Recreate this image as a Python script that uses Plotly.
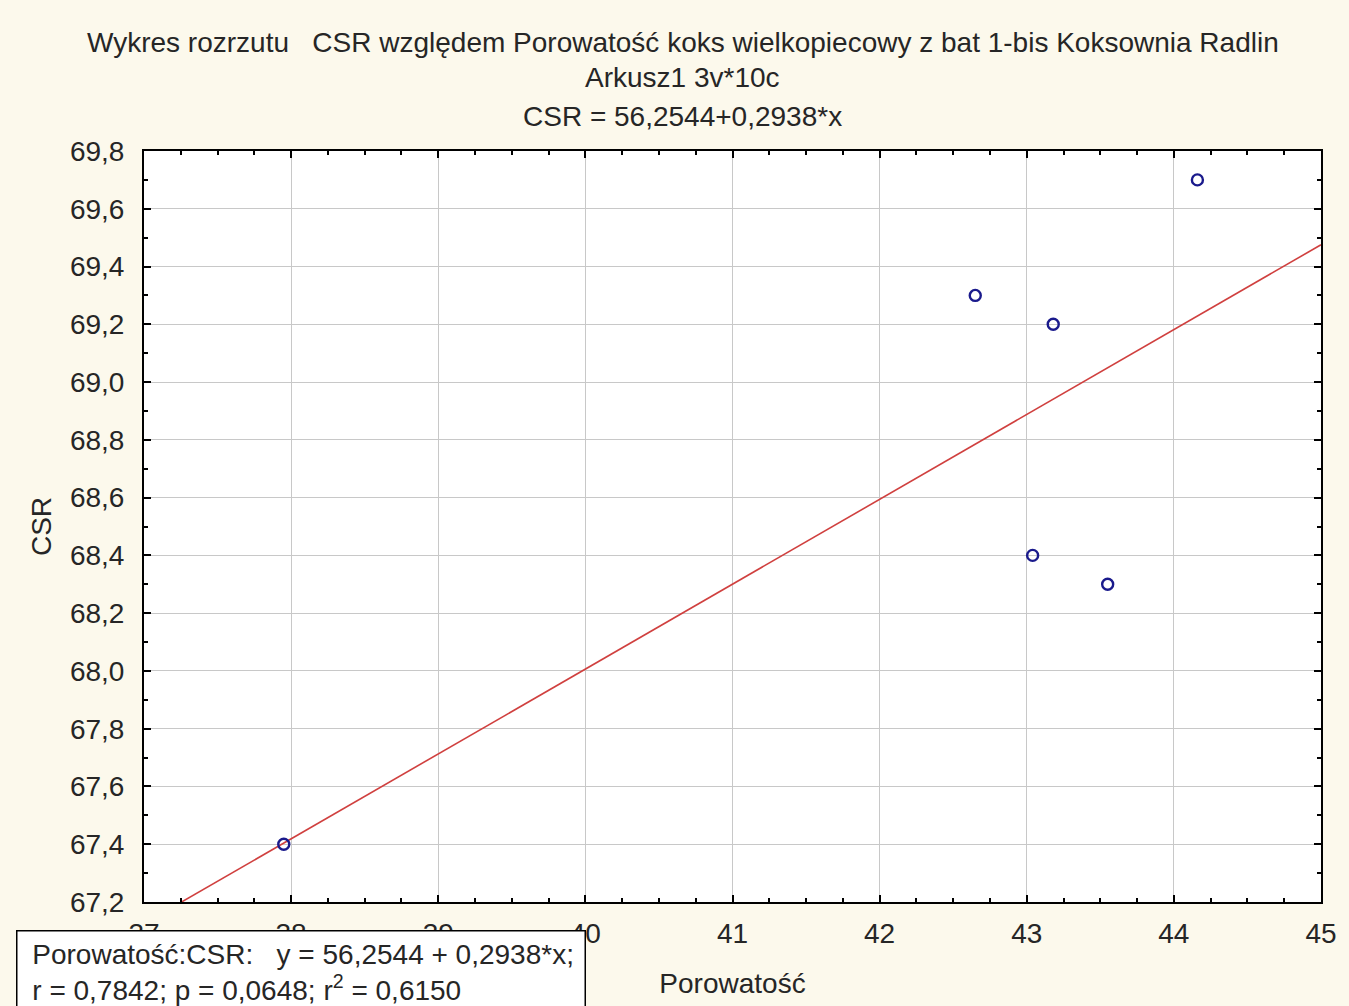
import plotly.graph_objects as go

# Porowatość (x) and CSR (y) measurements
porowatosc = [37.95, 42.65, 43.18, 43.04, 43.55, 44.16]
csr = [67.4, 69.3, 69.2, 68.4, 68.3, 69.7]

# Fitted regression: CSR = a + b*x
intercept = 56.2544
slope = 0.2938
fit_x = [37.0, 45.0]
fit_y = [intercept + slope * v for v in fit_x]

title_lines = [
    "Wykres rozrzutu\u00a0\u00a0\u00a0CSR względem Porowatość koks wielkopiecowy z bat 1-bis Koksownia Radlin",
    "Arkusz1 3v*10c",
    "CSR = 56,2544+0,2938*x",
]
stats_text = ("\u00a0Porowatość:CSR:\u00a0\u00a0\u00a0y = 56,2544 + 0,2938*x;<br>"
              "\u00a0r = 0,7842; p = 0,0648; r<sup>2</sup> = 0,6150")

W, H = 1349, 1006
L, R, T, B = 144, 1330, 151, 904
FONT = "Liberation Sans, Arial, sans-serif"
FS = 28
TXT = "#262626"


def px_to_paper_x(px):
    return (px - L) / (R - L)


def px_to_paper_y(py):
    return (B - py) / (B - T)


fig = go.Figure()
fig.add_trace(go.Scatter(
    x=fit_x, y=fit_y, mode="lines",
    line=dict(color="#D0403F", width=1.6),
    hoverinfo="skip", showlegend=False, cliponaxis=True,
))
fig.add_trace(go.Scatter(
    x=porowatosc, y=csr, mode="markers",
    marker=dict(symbol="circle-open", size=11, color="#1A1A8C",
                line=dict(width=2.4, color="#1A1A8C")),
    showlegend=False,
))

axis_common = dict(
    showline=True, linecolor="black", linewidth=2, mirror="allticks",
    ticks="inside", ticklen=7, tickwidth=1.5, tickcolor="black",
    showgrid=True, gridcolor="#C8C8C8", gridwidth=1,
    zeroline=False,
    tickfont=dict(family=FONT, size=FS, color=TXT),
)

fig.update_xaxes(
    range=[37, 45], tickmode="linear", tick0=37, dtick=1,
    minor=dict(ticks="inside", ticklen=4, tickcolor="black", dtick=0.25,
               showgrid=False),
    ticklabelstandoff=5,
    title=dict(text="Porowatość", font=dict(family=FONT, size=FS, color=TXT),
               standoff=26),
    **axis_common,
)
fig.update_yaxes(
    range=[67.2, 69.8], tickmode="linear", tick0=67.2, dtick=0.2,
    tickformat=".1f",
    minor=dict(ticks="inside", ticklen=4, tickcolor="black", dtick=0.1,
               showgrid=False),
    ticklabelstandoff=12,
    title=dict(text="CSR", font=dict(family=FONT, size=FS, color=TXT),
               standoff=10),
    **axis_common,
)

annotations = []
for line, py in zip(title_lines, [42, 77, 116]):
    annotations.append(dict(
        text=line, xref="paper", yref="paper",
        x=px_to_paper_x(687), y=px_to_paper_y(py),
        xanchor="center", yanchor="middle", showarrow=False,
        font=dict(family=FONT, size=FS, color=TXT),
    ))
annotations.append(dict(
    text=stats_text, xref="paper", yref="paper",
    x=px_to_paper_x(15), y=px_to_paper_y(932),
    xanchor="left", yanchor="top", align="left", showarrow=False,
    width=553,
    bgcolor="white", bordercolor="black", borderwidth=1.5, borderpad=7,
    font=dict(family=FONT, size=FS, color=TXT),
))

fig.update_layout(
    width=W, height=H,
    margin=dict(l=L, r=W - R, t=T, b=H - B),
    paper_bgcolor="#FCF9EC", plot_bgcolor="white",
    separators=", ",
    annotations=annotations,
    showlegend=False,
)

fig.write_html("out.html")
